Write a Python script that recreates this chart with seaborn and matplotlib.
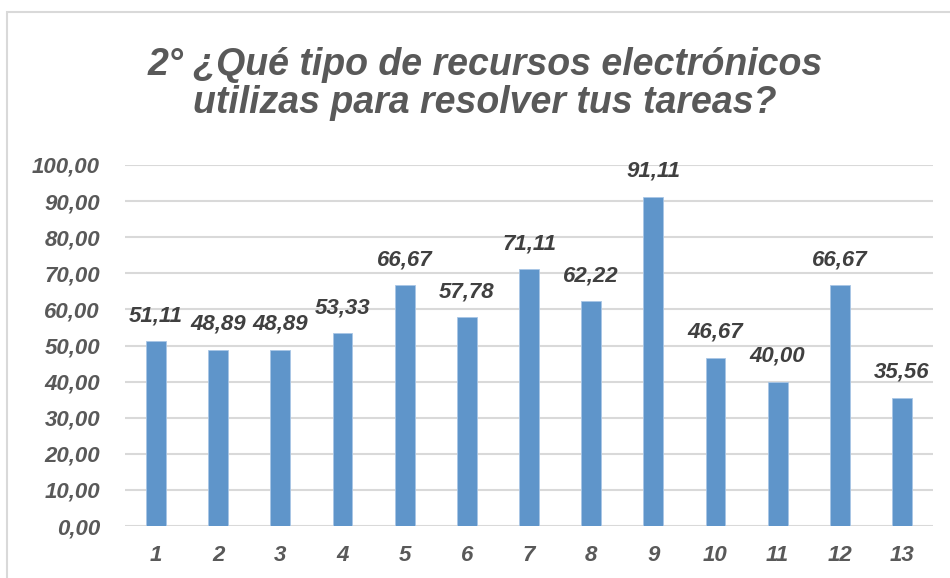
import matplotlib
matplotlib.use("Agg")
import matplotlib.pyplot as plt
import seaborn as sns
import pandas as pd
from matplotlib.patches import Rectangle
from matplotlib.font_manager import FontProperties

categorias = ["1", "2", "3", "4", "5", "6", "7", "8", "9", "10", "11", "12", "13"]
porcentajes = [51.11, 48.89, 48.89, 53.33, 66.67, 57.78, 71.11, 62.22, 91.11,
               46.67, 40.00, 66.67, 35.56]
y_ticks = [0, 10, 20, 30, 40, 50, 60, 70, 80, 90, 100]
titulo = "2° ¿Qué tipo de recursos electrónicos\nutilizas para resolver tus tareas?"

gris = "#595959"
azul = "#5f95ca"

sns.set_style("white")
plt.rcParams["font.family"] = ["Liberation Sans", "DejaVu Sans"]


def fuente(size):
    return FontProperties(family="Liberation Sans", style="italic",
                          weight="bold", size=size)


df = pd.DataFrame({"pregunta": categorias, "valor": porcentajes})

fig = plt.figure(figsize=(9.5, 5.78), dpi=100)
ax = fig.add_axes([125 / 950, 1 - 526 / 578, 808 / 950, 361 / 578])

sns.barplot(data=df, x="pregunta", y="valor", color=azul, width=0.32,
            saturation=1, ax=ax, edgecolor="#a9c6e6", linewidth=0.6, zorder=3)

ax.set_ylim(0, 100)
ax.set_xlim(-0.5, len(categorias) - 0.5)
ax.set_yticks(y_ticks)
ax.set_yticklabels([f"{v:.2f}".replace(".", ",") for v in y_ticks])
ax.yaxis.grid(True, color="#d9d9d9", linewidth=1.5, zorder=0)
ax.set_axisbelow(True)
for s in ax.spines.values():
    s.set_visible(False)
ax.set_xlabel("")
ax.set_ylabel("")
ax.tick_params(axis="y", length=0, pad=18, labelcolor=gris)
ax.tick_params(axis="x", length=0, pad=14, labelcolor=gris)
for lab in ax.get_xticklabels() + ax.get_yticklabels():
    lab.set_fontproperties(fuente(16))

# etiquetas de valor sobre cada barra
for i, v in enumerate(porcentajes):
    ax.annotate(f"{v:.2f}".replace(".", ","), (i, v), xytext=(0, 11),
                textcoords="offset points", ha="center", va="bottom",
                fontproperties=fuente(16), color="#404040")

fig.text(485 / 950, 1 - 84 / 578, titulo, ha="center", va="center",
         fontproperties=fuente(27), color=gris, linespacing=1.1)

# marco del gráfico
fig.patches.append(Rectangle((7 / 950, -0.1), 1.2, 1.1 - 12 / 578,
                             transform=fig.transFigure, fill=False,
                             edgecolor="#d9d9d9", linewidth=1.5))

fig.savefig("out.png", dpi=100)
